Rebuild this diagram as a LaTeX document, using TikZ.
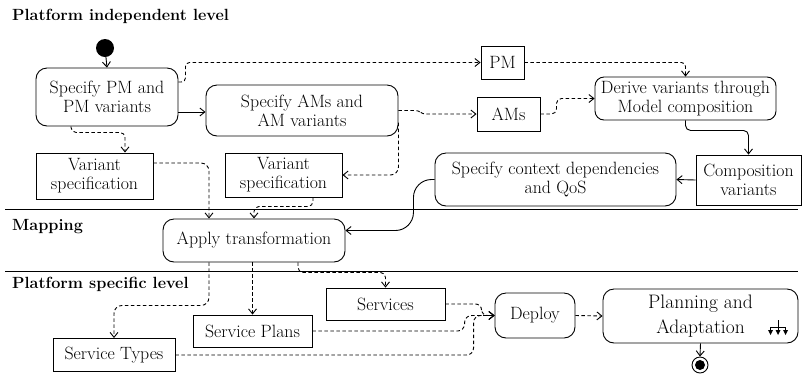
\documentclass[tikz,border=0pt]{standalone}
\usepackage{fontspec}
\usetikzlibrary{arrows.meta,calc}
\begin{document}
\begin{tikzpicture}[x=1pt,y=-1pt,
  every node/.style={font=\fontsize{17.8}{19}\selectfont\addfontfeatures{FakeBold=0.25}, align=center, inner sep=0pt},
  act/.style={draw, rounded corners=11pt, line width=0.9pt},
  obj/.style={draw, line width=0.9pt},
  lvl/.style={anchor=west, font=\fontsize{16.2}{18}\selectfont\bfseries},
  conn/.style={line width=0.9pt, -{Straight Barb[length=5pt,width=8pt,line width=0.9pt]}},
  dconn/.style={conn, dash pattern=on 3.5pt off 2.5pt},
  sep/.style={line width=0.9pt}
]
\useasboundingbox (0,0) rectangle (803,376);

% level labels and separators
\node[lvl] (lpi) at (12,16) {Platform independent level};
\node[lvl] (lmap) at (12,227) {Mapping};
\node[lvl] (lps) at (12,284) {Platform specific level};
\coordinate (s1a) at (5,209); \coordinate (s1b) at (798,209);
\coordinate (s2a) at (5,271); \coordinate (s2b) at (798,271);
\draw[sep] (s1a) -- (s1b);
\draw[sep] (s2a) -- (s2b);

% nodes
\node[circle, fill=black, minimum size=18pt] (start) at (105,48) {};
\node[act, minimum width=142pt, minimum height=58pt] (pm1) at (107,97) {Specify PM and\\PM variants};
\node[act, minimum width=192pt, minimum height=51pt] (ams1) at (302,110.5) {Specify AMs and\\AM variants};
\node[obj, minimum width=117pt, minimum height=46pt] (vs1) at (94.5,176) {Variant\\specification};
\node[obj, minimum width=117pt, minimum height=44pt] (vs2) at (283.5,175) {Variant\\specification};
\node[obj, minimum width=43pt, minimum height=33pt] (pmr) at (502.5,62.5) {PM};
\node[obj, minimum width=63pt, minimum height=34pt] (amr) at (508.5,114) {AMs};
\node[act, rounded corners=9pt, minimum width=181pt, minimum height=43pt] (derive) at (685.5,98.5) {Derive variants through\\Model composition};
\node[obj, minimum width=105pt, minimum height=50pt] (comp) at (748.5,180) {Composition\\variants};
\node[act, minimum width=241pt, minimum height=53pt] (ctx) at (555.5,179.5) {Specify context dependencies\\and QoS};
\node[act, minimum width=182pt, minimum height=43pt] (apply) at (254,240.5) {Apply transformation};
\node[obj, minimum width=122pt, minimum height=33pt] (stypes) at (114,355) {Service Types};
\node[obj, minimum width=119pt, minimum height=32pt] (splans) at (252.5,331) {Service Plans};
\node[obj, minimum width=119pt, minimum height=32pt] (services) at (385.5,304) {Services};
\node[act, minimum width=80pt, minimum height=45pt] (deploy) at (535,315.5) {Deploy};
\node[act, minimum width=195pt, minimum height=54pt, font=\fontsize{19.5}{25}\selectfont\addfontfeatures{FakeBold=0.25}] (plan) at (700.5,316) {Planning and\\Adaptation};
\node[circle, draw, line width=0.9pt, minimum size=16pt] (endo) at (700,365) {};
\node[circle, fill=black, minimum size=10pt] (endi) at (endo.center) {};

% rake symbol
\coordinate (rk) at (778,327);
\draw[line width=0.8pt] (rk) -- ++(0,-7);
\draw[line width=0.8pt] ([xshift=-7.5pt]rk) -- ([xshift=7.5pt]rk);
\foreach \dx in {-7.5,0,7.5}{
  \draw[line width=0.8pt] ([xshift=\dx pt]rk) -- ++(0,4);
  \fill ([xshift=\dx pt]rk) ++(-2.5,3) -- ++(5,0) -- ++(-2.5,5) -- cycle;
}

% connectors
\draw[conn] (start) -- (pm1.north);
\draw[conn] ([yshift=-15pt]pm1.east) -- ([yshift=-1.5pt]ams1.west);
\draw[dconn, rounded corners=4pt] ([yshift=15pt]pm1.east) -- ++(7,0) |- (pmr.west);
\draw[dconn, rounded corners=5pt] ([xshift=-36pt]pm1.south) -- ++(0,6) -| ([xshift=30.5pt]vs1.north);
\draw[dconn, rounded corners=3pt] (ams1.east) -- ++(20,0) -- ++(4,3.5) -- (amr.west);
\draw[dconn, rounded corners=8pt] ([yshift=-12pt]ams1.east) |- (vs2.east);
\draw[dconn, rounded corners=5pt] (amr.east) -- ++(16,0) |- (derive.west);
\draw[dconn, rounded corners=4pt] (pmr.east) -| (derive.north);
\draw[conn, rounded corners=5pt] (derive.south) -- ++(0,10) -| (comp.north);
\draw[conn] (comp.west) -- (ctx.east);
\draw[conn, rounded corners=18pt] (ctx.west) -| ([xshift=68pt,yshift=10pt]apply.east) -- ([yshift=10pt]apply.east);
\draw[dconn, rounded corners=8pt] ([yshift=13pt]vs1.east) -| ([xshift=-45pt]apply.north);
\draw[dconn, rounded corners=5pt] ([xshift=29.5pt]vs2.south) -- ++(0,9) -| (apply.north);
\draw[dconn, rounded corners=8pt] ([xshift=-45pt]apply.south) -- ++(0,43) -| (stypes.north);
\draw[dconn] (apply.south -| splans.north) -- (splans.north);
\draw[dconn, rounded corners=5pt] ([xshift=44pt]apply.south) -- ++(0,10) -| (services.north);
\draw[dconn, rounded corners=6pt] (services.east) -| ([xshift=-13pt]deploy.west) -- (deploy.west);
\draw[dconn, rounded corners=7pt] (splans.east) -| ([xshift=-30pt]deploy.west) -- (deploy.west);
\draw[dconn, rounded corners=7pt] (stypes.east) -| ([xshift=-21pt]deploy.west) -- (deploy.west);
\draw[dconn] (deploy.east) -- (plan.west);
\draw[conn] (plan.south) -- (endo.north);
\end{tikzpicture}
\end{document}
